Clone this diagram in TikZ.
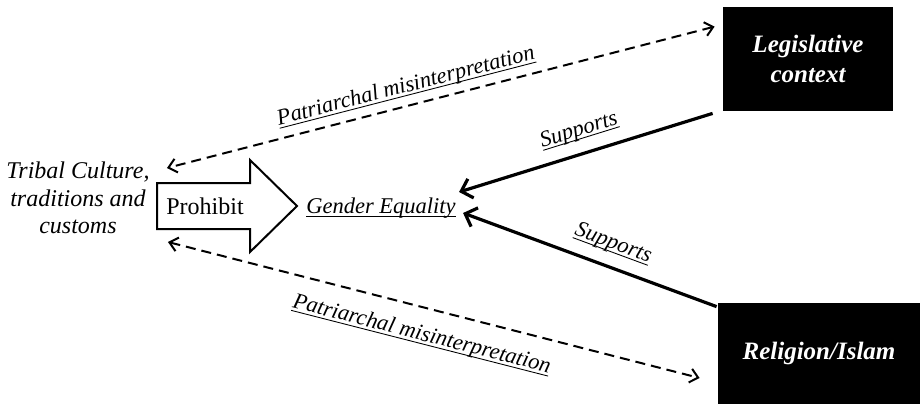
\documentclass[tikz,border=0pt]{standalone}
\usepackage{amsmath}
\usepackage{fontspec}
\setmainfont{Liberation Serif}
\usepackage{tikz}
\usetikzlibrary{arrows.meta, positioning, calc}
\definecolor{mydark}{RGB}{0,0,0}
\definecolor{mypaper}{RGB}{255,255,255}
\newcommand{\ulbl}[1]{\underline{\smash[b]{#1}}}
\tikzset{
  lbl/.style={font=\fontsize{12}{13.8}\selectfont\itshape, inner sep=0pt, align=center},
  darkbox/.style={rectangle, fill=mydark, text=mypaper,
    font=\fontsize{12.5}{15}\selectfont\bfseries\itshape, align=center},
  linklbl/.style={font=\fontsize{11.25}{13}\selectfont\itshape, sloped, inner sep=2pt},
  dasharrow/.style={{Straight Barb[length=4pt,width=7pt]}-{Straight Barb[length=4pt,width=7pt]},
    line width=1pt, dash pattern=on 5pt off 3pt, color=mydark},
  supparrow/.style={-{Straight Barb[length=5pt,width=10pt]}, line width=1.6pt, color=mydark}
}

\begin{document}
\begin{tikzpicture}[x=0.5pt, y=-0.5pt]
  \useasboundingbox (0,0) rectangle (920,404);

  % Boxes
  \node[darkbox, minimum width=85pt, minimum height=52pt] (legis) at (808,59) {Legislative\\context};
  \node[darkbox, minimum width=101pt, minimum height=50.5pt] (religion) at (819,353.5) {Religion/Islam};

  % Left side
  \node[lbl] (tribal) at (78,198) {Tribal Culture,\\traditions and\\customs};
  \node[lbl, font=\fontsize{11.25}{13}\selectfont\itshape] (gender) at (381,208) {\ulbl{Gender Equality}};

  % Prohibit arrow
  \draw[line width=1pt, fill=mypaper] (157,183) -- (250,183) -- (250,160) -- (297,206)
    -- (250,252) -- (250,229) -- (157,229) -- cycle;
  \node[font=\fontsize{12}{13.8}\selectfont, inner sep=0pt] (prohibit) at (205,206) {Prohibit};

  % Dashed links
  \draw[dasharrow] ($(legis.north west)+(-8,20)$) -- ($(tribal.east)+(17,-30)$)
    node[linklbl, pos=0.555, above=2pt] {\ulbl{Patriarchal misinterpretation}};
  \draw[dasharrow] ($(tribal.east)+(18,44)$) -- ($(religion.west)+(-18,24.5)$)
    node[linklbl, pos=0.49, below=6pt] {\ulbl{Patriarchal misinterpretation}};

  % Support links
  \draw[supparrow] ($(legis.south west)+(-10,2)$) -- ($(gender.east)+(3,-16)$)
    node[linklbl, pos=0.5, above=4pt] {\ulbl{Supports}};
  \draw[supparrow] ($(religion.north west)+(-1,4)$) -- ($(gender.east)+(7,5)$)
    node[linklbl, pos=0.44, above=4pt] {\ulbl{Supports}};
\end{tikzpicture}
\end{document}
